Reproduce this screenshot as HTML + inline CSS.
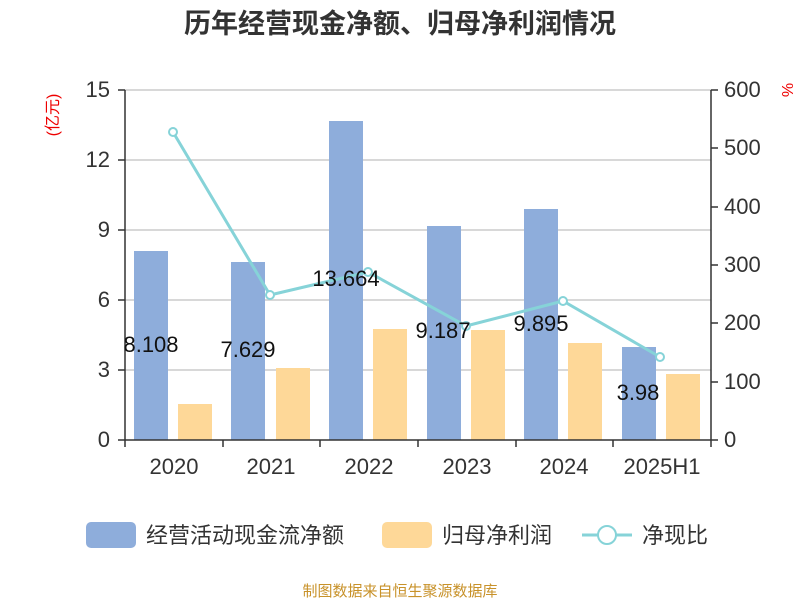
<!DOCTYPE html>
<html><head><meta charset="utf-8"><style>
body{margin:0;background:#fff;}
svg{display:block;font-family:"Liberation Sans","Noto Sans CJK SC",sans-serif;}
</style></head><body>
<svg width="800" height="600" viewBox="0 0 800 600" xmlns="http://www.w3.org/2000/svg">
<text x="400" y="33" text-anchor="middle" font-size="27" font-weight="bold" fill="#333">历年经营现金净额、归母净利润情况</text>
<g stroke="#ccc" stroke-width="1.5">
<line x1="125" y1="90" x2="711" y2="90"/><line x1="125" y1="160" x2="711" y2="160"/>
<line x1="125" y1="230" x2="711" y2="230"/><line x1="125" y1="300" x2="711" y2="300"/>
<line x1="125" y1="370" x2="711" y2="370"/>
</g>
<g fill="#8eaddb">
<rect x="134" y="251" width="34" height="189"/><rect x="231" y="262" width="34" height="178"/>
<rect x="329" y="121" width="34" height="319"/><rect x="427" y="226" width="34" height="214"/>
<rect x="524" y="209" width="34" height="231"/><rect x="622" y="347" width="34" height="93"/>
</g>
<g fill="#fed898">
<rect x="178" y="404" width="34" height="36"/><rect x="276" y="368" width="34" height="72"/>
<rect x="373" y="329" width="34" height="111"/><rect x="471" y="330" width="34" height="110"/>
<rect x="568" y="343" width="34" height="97"/><rect x="666" y="374" width="34" height="66"/>
</g>
<g stroke="#333" stroke-width="1.5">
<line x1="125" y1="90" x2="125" y2="440"/><line x1="711" y1="90" x2="711" y2="440"/>
<line x1="125" y1="440" x2="711" y2="440"/>
<line x1="118" y1="90" x2="125" y2="90"/><line x1="118" y1="160" x2="125" y2="160"/><line x1="118" y1="230" x2="125" y2="230"/><line x1="118" y1="300" x2="125" y2="300"/><line x1="118" y1="370" x2="125" y2="370"/><line x1="118" y1="440" x2="125" y2="440"/>
<line x1="711" y1="90" x2="718" y2="90"/><line x1="711" y1="148" x2="718" y2="148"/><line x1="711" y1="207" x2="718" y2="207"/><line x1="711" y1="265" x2="718" y2="265"/><line x1="711" y1="323" x2="718" y2="323"/><line x1="711" y1="382" x2="718" y2="382"/><line x1="711" y1="440" x2="718" y2="440"/>
<line x1="125" y1="440" x2="125" y2="447"/><line x1="223" y1="440" x2="223" y2="447"/><line x1="320" y1="440" x2="320" y2="447"/><line x1="418" y1="440" x2="418" y2="447"/><line x1="516" y1="440" x2="516" y2="447"/><line x1="613" y1="440" x2="613" y2="447"/><line x1="711" y1="440" x2="711" y2="447"/>
</g>
<g font-size="22" fill="#333" text-anchor="end">
<text x="110" y="97">15</text><text x="110" y="167">12</text><text x="110" y="237">9</text><text x="110" y="307">6</text><text x="110" y="377">3</text><text x="110" y="447">0</text>
</g>
<g font-size="22" fill="#333" text-anchor="start">
<text x="724" y="97">600</text><text x="724" y="155">500</text><text x="724" y="214">400</text><text x="724" y="272">300</text><text x="724" y="330">200</text><text x="724" y="389">100</text><text x="724" y="447">0</text>
</g>
<g font-size="22" fill="#333" text-anchor="middle">
<text x="174" y="474">2020</text><text x="271" y="474">2021</text><text x="369" y="474">2022</text><text x="467" y="474">2023</text><text x="564" y="474">2024</text><text x="662" y="474">2025H1</text>
</g>
<text transform="translate(58,115) rotate(-90)" text-anchor="middle" font-size="16" fill="#e00">(亿元)</text>
<text transform="translate(782,90) rotate(90)" text-anchor="middle" font-size="16" fill="#e00">%</text>
<polyline points="173,132 270,295 368,272 466,326 563,301 660,357" fill="none" stroke="#86d3d8" stroke-width="3"/>
<g fill="#fff" stroke="#86d3d8" stroke-width="2">
<circle cx="173" cy="132" r="4"/><circle cx="270" cy="295" r="4"/><circle cx="368" cy="272" r="4"/><circle cx="466" cy="326" r="4"/><circle cx="563" cy="301" r="4"/><circle cx="660" cy="357" r="4"/>
</g>
<g font-size="22" fill="#111" text-anchor="middle">
<text x="151" y="352">8.108</text><text x="248" y="357">7.629</text><text x="346" y="286">13.664</text><text x="443" y="338">9.187</text><text x="541" y="331">9.895</text><text x="638" y="400">3.98</text>
</g>
<rect x="86" y="522" width="50" height="26" rx="5" fill="#8eaddb"/>
<text x="146" y="543" font-size="22" fill="#333">经营活动现金流净额</text>
<rect x="382" y="522" width="50" height="26" rx="5" fill="#fed898"/>
<text x="442" y="543" font-size="22" fill="#333">归母净利润</text>
<line x1="582" y1="535" x2="632" y2="535" stroke="#86d3d8" stroke-width="3"/>
<circle cx="607" cy="535" r="9" fill="#fff" stroke="#86d3d8" stroke-width="2"/>
<text x="642" y="543" font-size="22" fill="#333">净现比</text>
<text x="400" y="596" text-anchor="middle" font-size="15" fill="#c8922a">制图数据来自恒生聚源数据库</text>
</svg>
</body></html>
